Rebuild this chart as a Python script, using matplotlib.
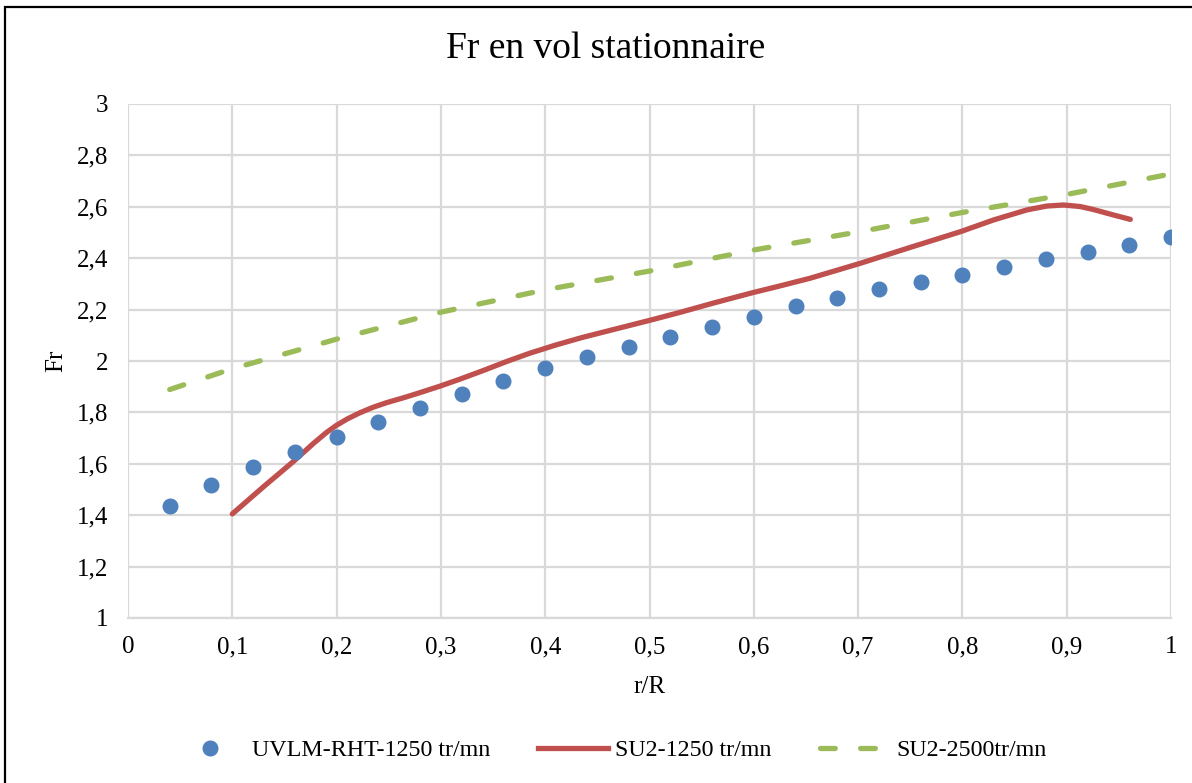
import matplotlib
matplotlib.use("Agg")
import matplotlib.pyplot as plt
from matplotlib.lines import Line2D
from matplotlib.ticker import FuncFormatter

# UVLM-RHT results at 1250 tr/mn
r_uvlm = [0.04, 0.08, 0.12, 0.16, 0.20, 0.24, 0.28, 0.32, 0.36, 0.40, 0.44, 0.48, 0.52,
          0.56, 0.60, 0.64, 0.68, 0.72, 0.76, 0.80, 0.84, 0.88, 0.92, 0.96, 1.00]
fr_uvlm = [1.436, 1.516, 1.586, 1.644, 1.704, 1.762, 1.817, 1.872, 1.924, 1.973, 2.014, 2.055,
           2.094, 2.134, 2.173, 2.215, 2.246, 2.279, 2.307, 2.336, 2.366, 2.397, 2.424, 2.452, 2.484]

# SU2 results at 1250 tr/mn
r_su2_1250 = [0.100, 0.130, 0.158, 0.178, 0.190, 0.200, 0.210, 0.222, 0.235, 0.248, 0.265,
              0.280, 0.299, 0.318, 0.340, 0.363, 0.385, 0.410, 0.435, 0.465, 0.500, 0.530,
              0.560, 0.599, 0.625, 0.654, 0.702, 0.750, 0.798, 0.830, 0.862, 0.881, 0.897,
              0.913, 0.925, 0.945, 0.961]
fr_su2_1250 = [1.405, 1.511, 1.607, 1.680, 1.721, 1.750, 1.774, 1.798, 1.820, 1.838, 1.858,
               1.877, 1.902, 1.929, 1.962, 1.998, 2.030, 2.062, 2.091, 2.122, 2.158, 2.190,
               2.224, 2.266, 2.292, 2.322, 2.380, 2.442, 2.503, 2.549, 2.588, 2.603, 2.607,
               2.601, 2.590, 2.568, 2.551]

# SU2 results at 2500 tr/mn
r_su2_2500 = [0.04, 0.10, 0.20, 0.30, 0.40, 0.50, 0.60, 0.70, 0.80, 0.90, 1.00]
fr_su2_2500 = [1.889, 1.970, 2.085, 2.190, 2.277, 2.350, 2.432, 2.502, 2.578, 2.648, 2.728]

x_ticks = [0, 0.1, 0.2, 0.3, 0.4, 0.5, 0.6, 0.7, 0.8, 0.9, 1.0]
y_ticks = [1, 1.2, 1.4, 1.6, 1.8, 2, 2.2, 2.4, 2.6, 2.8, 3]

labels = ["UVLM-RHT-1250 tr/mn", "SU2-1250 tr/mn", "SU2-2500tr/mn"]
title = "Fr en vol stationnaire"

BLUE = "#4f81bd"
RED = "#c0504d"
GREEN = "#9bbb59"
GRID = "#d9d9d9"
LW = 3.8
DASH = (2.8, 4.8)
FS = 18

plt.rcParams["font.family"] = ["Liberation Serif", "DejaVu Serif"]

W, H = 1192, 783
fig = plt.figure(figsize=(W / 100, H / 100), dpi=100)
ax = fig.add_axes([128 / W, 1 - 618 / H, (1171 - 128) / W, (618 - 104) / H])

ax.plot(r_su2_2500, fr_su2_2500, color=GREEN, lw=LW, dashes=DASH,
        dash_capstyle="round", zorder=3)
ax.plot(r_su2_1250, fr_su2_1250, color=RED, lw=LW, solid_capstyle="round",
        solid_joinstyle="round", zorder=4)
ax.plot(r_uvlm, fr_uvlm, ls="none", marker="o", ms=10.5, color=BLUE, mec=BLUE, zorder=5)

ax.set_xlim(0, 1)
ax.set_ylim(1, 3)
ax.set_xticks(x_ticks)
ax.set_yticks(y_ticks)

def comma(v, _):
    s = f"{v:.1f}".rstrip("0").rstrip(".")
    return s.replace(".", ",")

ax.xaxis.set_major_formatter(FuncFormatter(comma))
ax.yaxis.set_major_formatter(FuncFormatter(comma))
ax.tick_params(axis="both", length=0, labelsize=FS, colors="black")
ax.tick_params(axis="x", pad=13)
ax.tick_params(axis="y", pad=14)
ax.grid(True, color=GRID, lw=1.6)
ax.set_axisbelow(True)
for name, sp in ax.spines.items():
    sp.set_visible(name == "bottom")
ax.spines["bottom"].set_color(GRID)
ax.spines["bottom"].set_linewidth(1.6)

ax.set_xlabel("r/R", fontsize=FS, labelpad=13)
ax.set_ylabel("Fr", fontsize=FS, labelpad=7)

fig.text(606 / W, 1 - 49 / H, title, ha="center", va="center", fontsize=27)

handles = [
    Line2D([], [], ls="none", marker="o", ms=10.5, color=BLUE),
    Line2D([], [], color=RED, lw=LW),
    Line2D([], [], color=GREEN, lw=LW, dashes=DASH, dash_capstyle="round"),
]
fig.legend(handles, labels, loc="center", bbox_to_anchor=(611 / W, 1 - 750 / H),
           ncol=3, frameon=False, fontsize=17.3, handlelength=2.9,
           columnspacing=2.0, handletextpad=0.3)

# outer frame around the chart
fig.add_artist(plt.Rectangle((5 / W, -0.02), 1.2, 1 - 7 / H + 0.02,
                             transform=fig.transFigure, fill=False,
                             ec="black", lw=1.6))

fig.savefig("out.png", dpi=100)
